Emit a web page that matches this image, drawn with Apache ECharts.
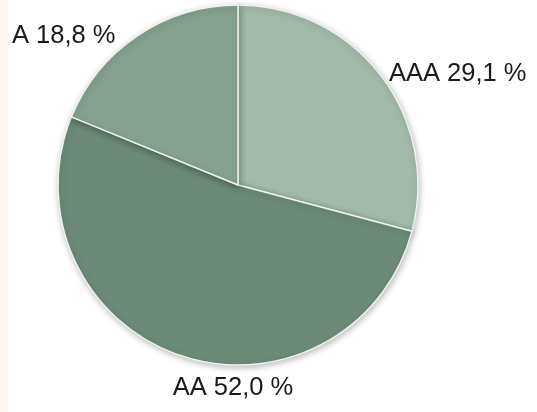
<!DOCTYPE html>
<html>
<head>
<meta charset="utf-8">
<script src="https://cdn.jsdelivr.net/npm/echarts@6/dist/echarts.min.js"></script>
<style>html,body{margin:0;padding:0;background:#fff}#c{width:537px;height:412px}</style>
</head>
<body>
<div id="c"></div>
<script>
var categories = ['AAA', 'AA', 'A'];
var values = [29.1, 52.0, 18.8];
var labelTexts = ['AAA 29,1 %', 'AA 52,0 %', 'A 18,8 %'];

var colors = ['#a3b9aa', '#6c8a77', '#86a18f'];
var labelPos = [
  {x: 389, y: 74, align: 'left'},
  {x: 233, y: 388, align: 'center'},
  {x: 12, y: 36, align: 'left'}
];

var chart = echarts.init(document.getElementById('c'), null, {renderer: 'canvas'});
chart.setOption({
  backgroundColor: '#ffffff',
  animation: false,
  graphic: [{type: 'rect', shape: {x: 0, y: 0, width: 8, height: 412}, style: {fill: '#fcf7f0'}, z: -1}],
  series: [{
    type: 'pie',
    center: [238, 185],
    radius: [0, 180],
    startAngle: 90,
    clockwise: true,
    data: categories.map(function (c, i) {
      return {name: c, value: values[i], itemStyle: {color: colors[i]}};
    }),
    itemStyle: {borderColor: '#eef3ef', borderWidth: 1.5, shadowBlur: 6, shadowColor: 'rgba(0,0,0,0.25)', shadowOffsetX: 1, shadowOffsetY: 2},
    label: {
      show: true,
      position: 'outside',
      overflow: 'none',
      width: 200,
      formatter: function (p) { return labelTexts[p.dataIndex]; },
      fontFamily: 'Liberation Sans, Arial, sans-serif',
      fontSize: 25.5,
      color: '#1a1a1a'
    },
    labelLine: {show: false},
    labelLayout: function (p) {
      var lp = labelPos[p.dataIndex];
      return {x: lp.x, y: lp.y, align: lp.align, verticalAlign: 'middle'};
    },
    emphasis: {disabled: true}
  }]
});
</script>
</body>
</html>
